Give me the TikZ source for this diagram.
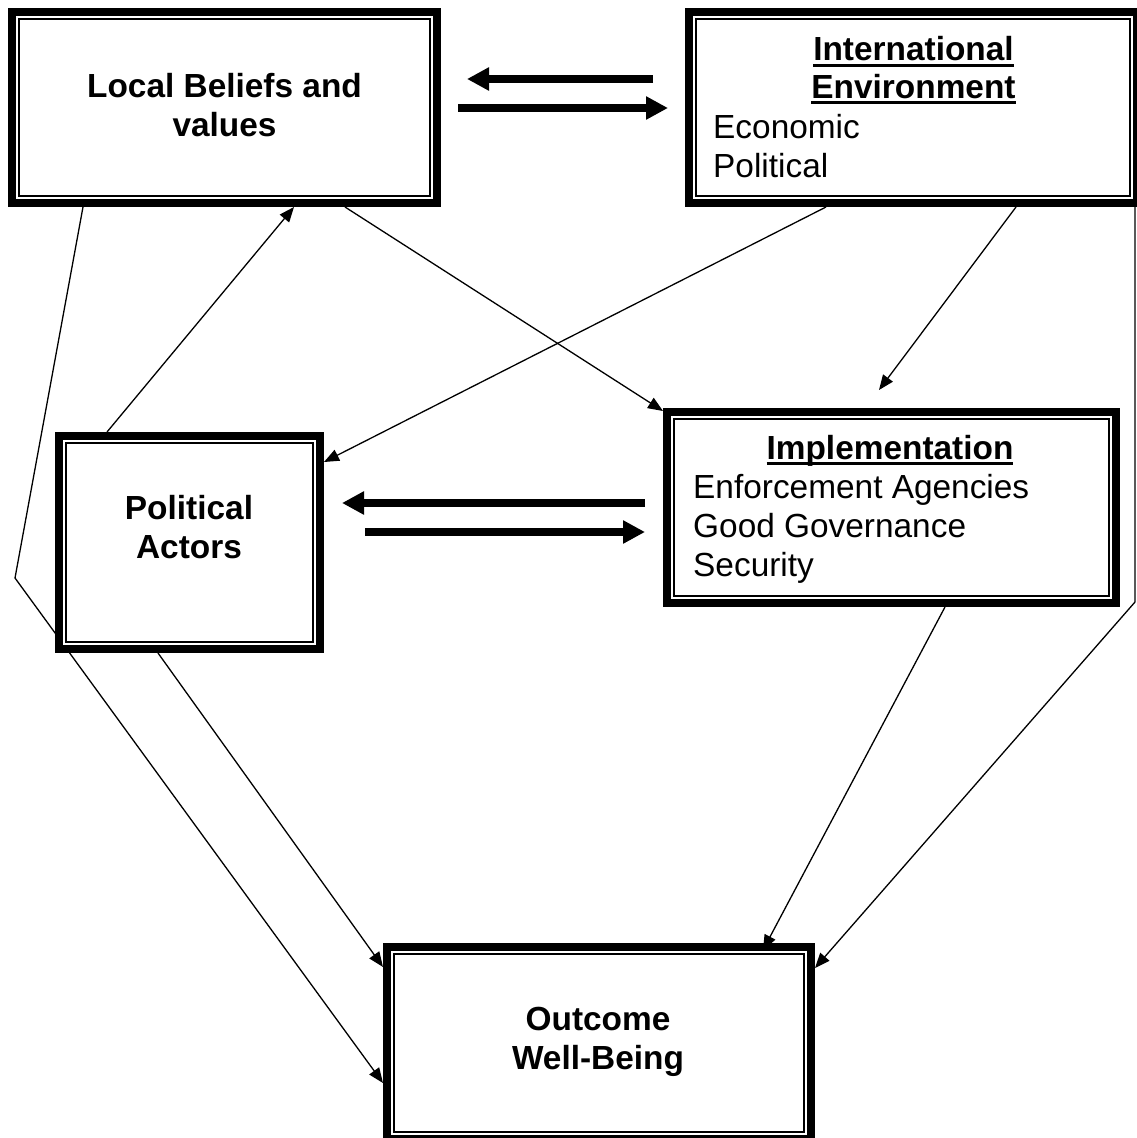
\documentclass[tikz,border=0pt]{standalone}
\usepackage{fontspec}
\setmainfont{Liberation Sans}
\usetikzlibrary{arrows.meta,calc,backgrounds}
% bold heading with a heavy underline
\newcommand\headline[1]{\setbox0\hbox{\bfseries #1}\rlap{\rule[-6pt]{\wd0}{3pt}}\box0}
\begin{document}
\begin{tikzpicture}[x=1pt,y=-1pt,
  box/.style={draw, rectangle, line width=8pt, fill=white, inner sep=0pt},
  innerrule/.style={line width=1.5pt},
  txt/.style={font=\fontsize{33.4}{39}\selectfont, inner sep=0pt},
  btxt/.style={txt, font=\fontsize{33.4}{39}\selectfont\bfseries},
  conn/.style={line width=1.3pt, -{Triangle[length=15pt,width=12pt]}},
  fat/.style={line width=8pt, -{Triangle[length=22pt,width=22pt]}}]
\useasboundingbox (0,0) rectangle (1137,1138);
\clip (0,0) rectangle (1137,1138);

% boxes (thick outer frame plus thin inner rule)
\node[box, minimum width=425pt, minimum height=191pt] (lbv)  at (224.5,107.5) {};
\node[box, minimum width=448pt, minimum height=191pt] (intl) at (913,107.5) {};
\node[box, minimum width=261pt, minimum height=213pt] (pa)   at (189.5,542.5) {};
\node[box, minimum width=449pt, minimum height=191pt] (impl) at (891.5,507.5) {};
\node[box, minimum width=424pt, minimum height=192pt] (out)  at (599,1043) {};
\foreach \n in {lbv,intl,pa,impl,out}
  \draw[innerrule] ($(\n.north west)+(11,11)$) rectangle ($(\n.south east)+(-11,-11)$);

% box texts
\node[btxt, anchor=base] (lbv-text) at (224.5,97)
  {\begin{tabular}[t]{@{}c@{}}Local Beliefs and\\values\end{tabular}};
\node[btxt, anchor=base] (intl-head) at (913.5,60.5)
  {\begin{tabular}[t]{@{}c@{}}\headline{International}\\[-1.5pt]\headline{Environment}\end{tabular}};
\node[txt, anchor=base west] (intl-list) at (713,138)
  {\begin{tabular}[t]{@{}l@{}}Economic\\Political\end{tabular}};
\node[btxt, anchor=base] (pa-text) at (189,519)
  {\begin{tabular}[t]{@{}c@{}}Political\\Actors\end{tabular}};
\node[btxt, anchor=base] (impl-head) at (890,459) {\headline{Implementation}};
\node[txt, anchor=base west] (impl-list) at (693,498)
  {\begin{tabular}[t]{@{}l@{}}Enforcement Agencies\\Good Governance\\Security\end{tabular}};
\node[btxt, anchor=base] (out-text) at (598,1030)
  {\begin{tabular}[t]{@{}c@{}}Outcome\\Well-Being\end{tabular}};

% free points of the thin connectors
\coordinate (bendL) at (15,578);
\coordinate (bendR) at (1135,602);
\coordinate (implTip) at (879,390);

% thin connectors, running behind the boxes
\begin{pgfonlayer}{background}
\draw[conn] ($(lbv.south west)+(75,0)$) -- (bendL) -- ($(out.north west)+(0,140)$);
\draw[conn] ($(pa.north west)+(52,0)$) -- ($(lbv.south west)+(286,0)$);
\draw[conn] ($(lbv.south west)+(337,0)$) -- ($(impl.north west)+(0,3)$);
\draw[conn] ($(intl.south west)+(141,0)$) -- ($(pa.north east)+(0,30)$);
\draw[conn] ($(intl.south west)+(331,0)$) -- (implTip);
\draw[conn] ($(intl.south west)+(450,0)$) -- (bendR) -- ($(out.north east)+(0,25)$);
\draw[conn] ($(pa.south west)+(103,0)$) -- ($(out.north west)+(0,24)$);
\draw[conn] ($(impl.south west)+(282,0)$) -- ($(out.north west)+(380,7)$);
\end{pgfonlayer}

% heavy two-way arrows
\draw[fat] ($(intl.west)+(-32,-28.5)$) -- ($(lbv.east)+(26,-28.5)$);
\draw[fat] ($(lbv.east)+(17,0.5)$) -- ($(intl.west)+(-17,0.5)$);
\draw[fat] ($(impl.west)+(-18,-4.5)$) -- ($(pa.east)+(18,-39.5)$);
\draw[fat] ($(pa.east)+(41,-10.5)$) -- ($(impl.west)+(-18,24.5)$);
\end{tikzpicture}
\end{document}
